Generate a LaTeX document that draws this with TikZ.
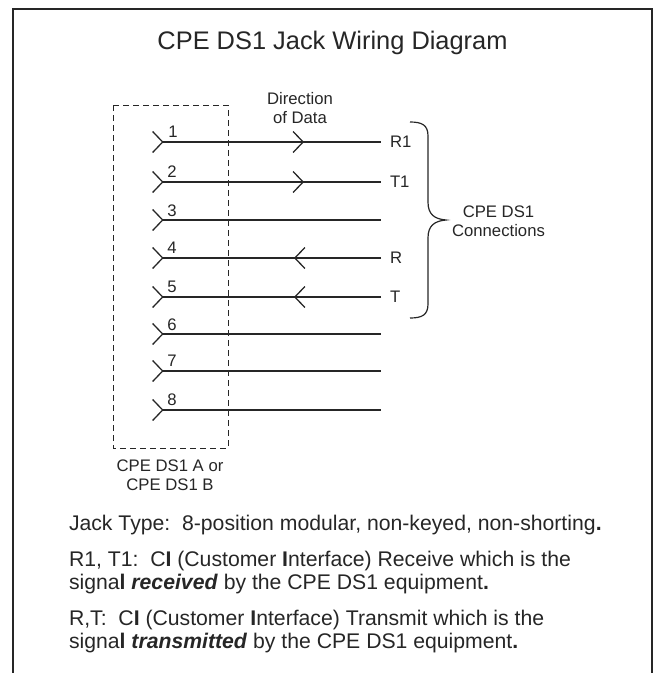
\documentclass[tikz,border=0pt]{standalone}
\usepackage{fontspec}
\setmainfont{Liberation Sans}
\usetikzlibrary{arrows.meta, positioning}

\begin{document}
\begin{tikzpicture}[x=1pt, y=-1pt, >={Straight Barb[length=10pt, width=21pt]}, inner sep=0pt, outer sep=0pt,
  wire/.style={draw=black!85, line width=1.3pt}, frame/.style={draw=black!85, line width=2.6pt}]
% Define styles for pins, labels and text
\tikzstyle{pin} = [coordinate]
\tikzstyle{wirelabel} = [font=\fontsize{16.7}{18}\selectfont, text=black!85]
\tikzstyle{smalllabel} = [font=\fontsize{16.7}{19}\selectfont, text=black!85, align=center]
\tikzstyle{bodytext} = [font=\fontsize{21.2}{23}\selectfont, text=black!85, align=left, anchor=north west]

\useasboundingbox (0,0) rectangle (654,673);

% Outer frame, open at the bottom
\coordinate (frameBL) at (13,673);
\coordinate (frameTL) at (13,9);
\coordinate (frameTR) at (652,9);
\coordinate (frameBR) at (652,673);
\draw[frame] (frameBL) -- (frameTL) -- (frameTR) -- (frameBR);

\node [font=\fontsize{25.4}{30}\selectfont, text=black!85, anchor=base] (title) at (332.5,49) {CPE DS1 Jack Wiring Diagram};

% Pins placement
\node [pin] (pin1) at (152,142) {};
\node [pin, below of=pin1, node distance=40pt] (pin2) {};
\node [pin, below of=pin2, node distance=38pt] (pin3) {};
\node [pin, below of=pin3, node distance=38pt] (pin4) {};
\node [pin, below of=pin4, node distance=39pt] (pin5) {};
\node [pin, below of=pin5, node distance=37pt] (pin6) {};
\node [pin, below of=pin6, node distance=37pt] (pin7) {};
\node [pin, below of=pin7, node distance=39pt] (pin8) {};

\node [pin, right of=pin1, node distance=229pt] (end1) {};
\node [pin, right of=pin2, node distance=229pt] (end2) {};
\node [pin, right of=pin3, node distance=229pt] (end3) {};
\node [pin, right of=pin4, node distance=229pt] (end4) {};
\node [pin, right of=pin5, node distance=229pt] (end5) {};
\node [pin, right of=pin6, node distance=229pt] (end6) {};
\node [pin, right of=pin7, node distance=229pt] (end7) {};
\node [pin, right of=pin8, node distance=229pt] (end8) {};

\node [pin, right of=pin1, node distance=152pt] (flow1) {};
\node [pin, right of=pin2, node distance=152pt] (flow2) {};
\node [pin, right of=pin4, node distance=142pt] (flow4) {};
\node [pin, right of=pin5, node distance=142pt] (flow5) {};

% Dashed box round the jack
\coordinate (jackNW) at (113,105);
\coordinate (jackSE) at (228,448);
\draw[black!85, line width=0.9pt, dash pattern=on 6pt off 4pt] (jackNW) rectangle (jackSE);

% Draw wires
\draw[wire, >-] (pin1) -- (end1);
\draw[wire, >-] (pin2) -- (end2);
\draw[wire, >-] (pin3) -- (end3);
\draw[wire, >-] (pin4) -- (end4);
\draw[wire, >-] (pin5) -- (end5);
\draw[wire, >-] (pin6) -- (end6);
\draw[wire, >-] (pin7) -- (end7);
\draw[wire, >-] (pin8) -- (end8);

% Direction of data on the wires
\draw[wire, ->] (pin1) ++(10pt,0) -- (flow1);
\draw[wire, ->] (pin2) ++(10pt,0) -- (flow2);
\draw[wire, ->] (end4) -- (flow4);
\draw[wire, ->] (end5) -- (flow5);

% Pin numbers
\node [wirelabel] (num1) at (173,132) {1};
\node [wirelabel] (num2) at (172,172) {2};
\node [wirelabel] (num3) at (172,211) {3};
\node [wirelabel] (num4) at (172,248) {4};
\node [wirelabel] (num5) at (172,287) {5};
\node [wirelabel] (num6) at (172,325) {6};
\node [wirelabel] (num7) at (172,361) {7};
\node [wirelabel] (num8) at (172,400) {8};

% Signal names
\node [wirelabel, anchor=west, right=9pt of end1] (r1) {R1};
\node [wirelabel, anchor=west, right=9pt of end2] (t1) {T1};
\node [wirelabel, anchor=west, right=9pt of end4] (r) {R};
\node [wirelabel, anchor=west, right=9pt of end5] (t) {T};

% Brace over the signal names
\coordinate (braceTop) at (410,122);
\coordinate (braceTip) at (446,220);
\coordinate (braceEnd) at (410,318);
\draw[black!85, line width=1.2pt] (braceTop) .. controls (422,122) and (428,125) .. (428,136) -- (428,202)
  .. controls (428,214) and (434,219) .. (braceTip) .. controls (434,221) and (428,226) .. (428,238)
  -- (428,304) .. controls (428,315) and (422,318) .. (braceEnd);

\node [smalllabel] (datalabel) at (300,108) {Direction\\of Data};
\node [smalllabel] (conlabel) at (498.5,221) {CPE DS1\\Connections};
\node [smalllabel] (jacklabel) at (170,475) {CPE DS1 A or\\CPE DS1 B};

% Notes under the drawing
\node [bodytext] (typenote) at (69,515) {Jack Type:\ \ 8-position modular, non-keyed, non-shorting\textbf{.}};
\node [bodytext] (rxnote) at (69,551) {R1, T1:\ \ C\textbf{I} (Customer \textbf{I}nterface) Receive which is the\\signa\textbf{l} \textbf{\textit{received}} by the CPE DS1 equipment\textbf{.}};
\node [bodytext] (txnote) at (69,610) {R,T:\ \ C\textbf{I} (Customer \textbf{I}nterface) Transmit which is the\\signa\textbf{l} \textbf{\textit{transmitted}} by the CPE DS1 equipment\textbf{.}};

\end{tikzpicture}
\end{document}
